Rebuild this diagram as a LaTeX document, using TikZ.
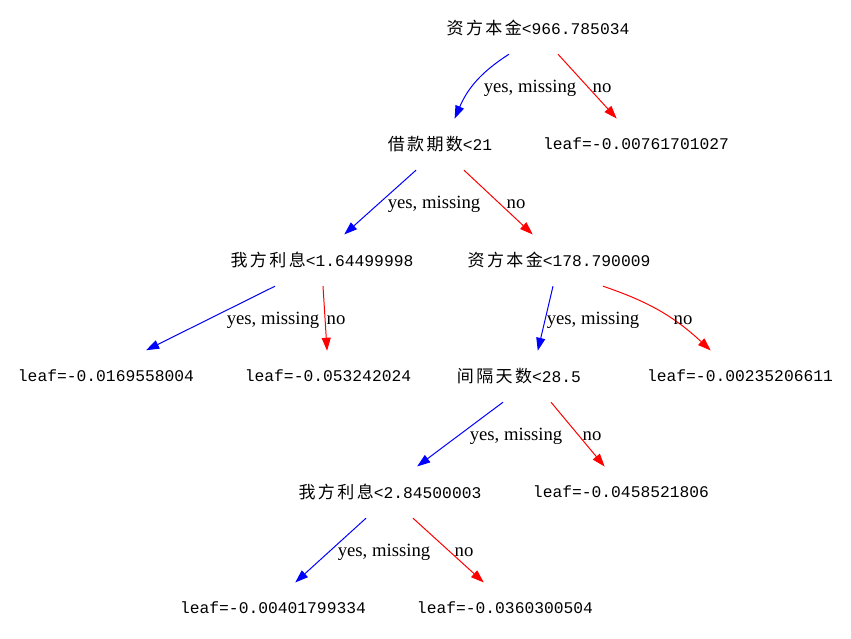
\documentclass[tikz,border=0pt]{standalone}
\usepackage{fontspec}
\setmainfont{Liberation Serif}
\setmonofont{Liberation Mono}
\newfontfamily\cjk[LetterSpace=14]{Noto Sans CJK SC}
\usetikzlibrary{arrows.meta}
\newcommand{\zh}[1]{{\cjk\fontsize{17}{18}\selectfont #1}}
\tikzset{
  split/.style={font=\ttfamily\fontsize{16.3}{18}\selectfont, minimum height=52pt, inner sep=0pt},
  lbl/.style={font=\fontsize{18.7}{20}\selectfont, inner sep=0pt},
  yes/.style={blue, line width=1pt, shorten >=-1pt, -{Triangle[length=13pt,width=9pt]}},
  no/.style={red, line width=1pt, shorten >=-1pt, -{Triangle[length=13pt,width=9pt]}}
}
\begin{document}
\begin{tikzpicture}[x=1pt,y=-1pt]
\useasboundingbox (0,0) rectangle (851,639);

\node[split] (n0) at (538,28) {\zh{资方本金}<966.785034};

\node[split] (n1) at (440,144) {\zh{借款期数}<21};
\node[split] (n2) at (636,144) {leaf=-0.00761701027};

\node[split] (n3) at (322,260) {\zh{我方利息}<1.64499998};
\node[split] (n4) at (559,260) {\zh{资方本金}<178.790009};

\node[split] (n5) at (106,376) {leaf=-0.0169558004};
\node[split] (n6) at (328,376) {leaf=-0.053242024};
\node[split] (n7) at (519,376) {\zh{间隔天数}<28.5};
\node[split] (n8) at (740,376) {leaf=-0.00235206611};

\node[split] (n9) at (390,492) {\zh{我方利息}<2.84500003};
\node[split] (n10) at (621,492) {leaf=-0.0458521806};

\node[split] (n11) at (273,608) {leaf=-0.00401799334};
\node[split] (n12) at (505,608) {leaf=-0.0360300504};

% edges
\draw[yes] ([xshift=-29pt]n0.south) to[bend right=17] ([xshift=15pt]n1.north);
\draw[no] ([xshift=20pt]n0.south) -- ([xshift=-20pt]n2.north);
\draw[yes] ([xshift=-24pt]n1.south) -- ([xshift=23pt]n3.north);
\draw[no] ([xshift=24pt]n1.south) -- ([xshift=-27pt]n4.north);
\draw[yes] ([xshift=-47pt]n3.south) -- ([xshift=41pt]n5.north);
\draw[no] ([xshift=1pt]n3.south) -- ([xshift=-1pt]n6.north);
\draw[yes] ([xshift=-6pt]n4.south) -- ([xshift=19pt]n7.north);
\draw[no] ([xshift=44pt]n4.south) to[bend left=12] ([xshift=-30pt]n8.north);
\draw[yes] ([xshift=-16pt]n7.south) -- ([xshift=28pt]n9.north);
\draw[no] ([xshift=32pt]n7.south) -- ([xshift=-17pt]n10.north);
\draw[yes] ([xshift=-24pt]n9.south) -- ([xshift=23pt]n11.north);
\draw[no] ([xshift=23pt]n9.south) -- ([xshift=-22pt]n12.north);

% edge labels
\node[lbl] (y0) at (530,88) {yes, missing};
\node[lbl] (x0) at (602,88) {no};
\node[lbl] (y1) at (434,204) {yes, missing};
\node[lbl] (x1) at (516,204) {no};
\node[lbl] (y3) at (273,320) {yes, missing};
\node[lbl] (x3) at (336,320) {no};
\node[lbl] (y4) at (593,320) {yes, missing};
\node[lbl] (x4) at (683,320) {no};
\node[lbl] (y7) at (516,436) {yes, missing};
\node[lbl] (x7) at (592,436) {no};
\node[lbl] (y9) at (384,552) {yes, missing};
\node[lbl] (x9) at (464,552) {no};
\end{tikzpicture}
\end{document}
